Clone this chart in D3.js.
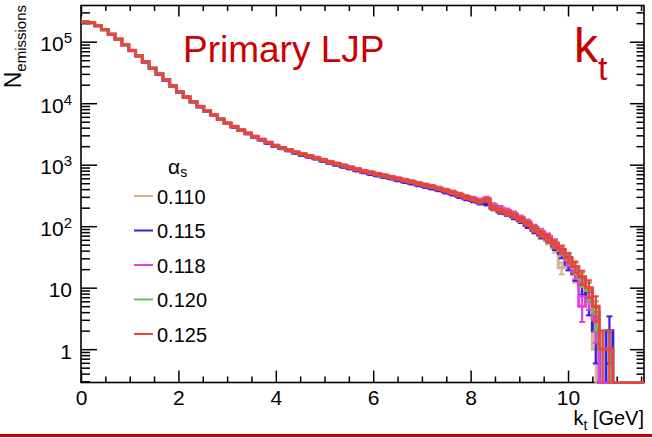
<!DOCTYPE html>
<html><head><meta charset="utf-8">
<script src="https://cdn.jsdelivr.net/npm/d3@7"></script>
<style>
body{margin:0;background:#fff;}
svg{display:block;}
text{font-family:"Liberation Sans",Arial,Helvetica,sans-serif;}
</style>
</head><body>
<svg id="c" width="652" height="438"></svg>
<script>
// ---------------- data ----------------
const seriesNames = ["0.110", "0.115", "0.118", "0.120", "0.125"];
const seriesColors = ["#d4b48a", "#3b1fe5", "#e43fe4", "#6abf5a", "#e8453c"];
const binWidth = 0.14; // kt bin width [GeV], bins start at 0

const s0110 = [211500, 204500, 182000, 157500, 132000, 110000, 89000, 72000, 59000, 47000,
  37000, 30000, 24000, 19000, 15200, 12600, 10550, 8800, 7480, 6430,
  5490, 4720, 4150, 3660, 3230, 2840, 2560, 2280, 2030, 1870,
  1730, 1580, 1470, 1375, 1280, 1185, 1100, 1030, 960, 895,
  836, 782, 738, 696, 658, 620, 586, 552, 522, 488,
  460, 434, 405, 378, 348, 322, 296, 280, 262, 262,
  198, 178, 162, 146, 126, 106, 88, 70, 58, 44,
  21, 26, 16, 12, 7, 1, 0, 0, 0, 0,
  0, 0, 0];
const s0115 = [210000, 203000, 181000, 156000, 131000, 109000, 88500, 71500, 58500, 46500,
  36600, 29700, 23700, 18800, 15100, 12400, 10450, 8700, 7400, 6350,
  5420, 4660, 4100, 3610, 3190, 2800, 2520, 2240, 2000, 1830,
  1690, 1545, 1430, 1335, 1245, 1150, 1070, 990, 925, 865,
  805, 750, 705, 668, 632, 598, 560, 528, 498, 466,
  440, 415, 388, 360, 334, 306, 280, 262, 240, 232,
  196, 172, 160, 142, 124, 104, 86, 72, 62, 48,
  36, 24, 17, 11, 6, 2, 0, 2, 0, 0,
  0, 0, 0];
const s0118 = [212000, 205000, 183000, 158000, 133000, 110500, 89500, 72500, 59500, 47400,
  37300, 30200, 24200, 19200, 15400, 12700, 10700, 8900, 7580, 6500,
  5560, 4780, 4210, 3710, 3280, 2890, 2600, 2320, 2070, 1900,
  1760, 1610, 1500, 1400, 1305, 1210, 1125, 1050, 980, 915,
  855, 800, 752, 712, 672, 636, 600, 566, 535, 500,
  472, 446, 416, 388, 360, 332, 303, 284, 262, 285,
  222, 198, 180, 160, 138, 118, 96, 82, 68, 54,
  40, 28, 18, 5, 7, 3, 0, 0, 0, 0,
  0, 0, 0];
const s0120 = [211000, 204000, 182500, 157000, 132500, 110000, 89200, 72200, 59000, 47100,
  37100, 30000, 24000, 19000, 15300, 12600, 10600, 8820, 7500, 6450,
  5510, 4740, 4170, 3680, 3250, 2860, 2570, 2300, 2045, 1885,
  1745, 1595, 1485, 1385, 1292, 1192, 1112, 1038, 968, 902,
  843, 788, 743, 702, 663, 626, 591, 558, 527, 492,
  464, 438, 409, 381, 352, 326, 297, 277, 253, 268,
  202, 182, 167, 151, 131, 112, 92, 76, 64, 51,
  41, 30, 21, 14, 9, 4, 1, 1, 0, 0,
  0, 0, 0];
const s0125 = [211000, 204000, 182000, 157000, 132000, 110000, 89000, 72000, 59000, 47000,
  37000, 30000, 24000, 19000, 15300, 12600, 10600, 8800, 7500, 6450,
  5500, 4730, 4170, 3670, 3240, 2850, 2570, 2290, 2040, 1880,
  1740, 1590, 1480, 1380, 1290, 1190, 1110, 1035, 966, 900,
  841, 785, 741, 700, 661, 624, 589, 556, 525, 490,
  462, 437, 407, 380, 351, 324, 295, 275, 251, 269,
  200, 180, 166, 150, 130, 111, 91, 75, 64, 52,
  42, 31, 22, 15, 10, 5, 1, 1, 0, 0,
  0, 0, 0];
const seriesValues = [s0110, s0115, s0118, s0120, s0125];

const xMajorTicks = [0, 2, 4, 6, 8, 10];
const xMajorLabels = ["0", "2", "4", "6", "8", "10"];
const yMajorTicks = [1, 10, 100, 1000, 10000, 100000];
const yTickBase = ["1", "10", "10", "10", "10", "10"];
const yTickExp = ["", "", "2", "3", "4", "5"];

// ---------------- layout ----------------
const L = 81, R = 644, T = 5.5, B = 382.5;
const x = d3.scaleLinear().domain([0, 11.56]).range([L, R]);
const y = d3.scaleLog().domain([0.287, 3.88e5]).range([B, T]).clamp(true);

const svg = d3.select("#c");
svg.append("rect").attr("width", 652).attr("height", 438).attr("fill", "#fff");

// minor ticks
const xMinor = d3.range(0, 11.56, 0.5).filter(v => !xMajorTicks.includes(v));
const yMinor = [];
[0.1, 1, 10, 100, 1000, 10000, 100000].forEach(d => {
  for (let m = 2; m <= 9; m++) { const v = d * m; if (v >= 0.287 && v <= 3.88e5) yMinor.push(v); }
});

function styleAxis(g) {
  g.select(".domain").remove();
  g.selectAll("line").attr("stroke", "#000").attr("stroke-width", 1.5);
}

// bottom axis (major with labels)
const gxb = svg.append("g").attr("transform", `translate(0,${B})`)
  .call(d3.axisBottom(x).tickValues(xMajorTicks).tickSize(-12).tickPadding(7.5)
    .tickFormat((d, i) => xMajorLabels[i]));
styleAxis(gxb);
gxb.selectAll("text").attr("font-size", 21).attr("fill", "#000")
  .attr("font-family", '"Liberation Sans",Arial,sans-serif');
svg.append("g").attr("transform", `translate(0,${B})`)
  .call(d3.axisBottom(x).tickValues(xMinor).tickSize(-6).tickFormat("")).call(styleAxis);
// top axis
svg.append("g").attr("transform", `translate(0,${T})`)
  .call(d3.axisTop(x).tickValues(xMajorTicks).tickSize(-11).tickFormat("")).call(styleAxis);
svg.append("g").attr("transform", `translate(0,${T})`)
  .call(d3.axisTop(x).tickValues(xMinor).tickSize(-5.5).tickFormat("")).call(styleAxis);

// left axis
const gyl = svg.append("g").attr("transform", `translate(${L},0)`)
  .call(d3.axisLeft(y).tickValues(yMajorTicks).tickSize(-16).tickPadding(9).tickFormat(""));
styleAxis(gyl);
gyl.selectAll(".tick").each(function (d, i) {
  const t = d3.select(this).select("text")
    .attr("font-size", 21).attr("fill", "#000").attr("dy", "0.43em")
    .attr("font-family", '"Liberation Sans",Arial,sans-serif');
  t.text(null);
  t.append("tspan").text(yTickBase[i]);
  if (yTickExp[i]) t.append("tspan").attr("font-size", 15).attr("dy", -8).text(yTickExp[i]);
});
svg.append("g").attr("transform", `translate(${L},0)`)
  .call(d3.axisLeft(y).tickValues(yMinor).tickSize(-9).tickFormat("")).call(styleAxis);
// right axis
svg.append("g").attr("transform", `translate(${R},0)`)
  .call(d3.axisRight(y).tickValues(yMajorTicks).tickSize(-14).tickFormat("")).call(styleAxis);
svg.append("g").attr("transform", `translate(${R},0)`)
  .call(d3.axisRight(y).tickValues(yMinor).tickSize(-7.5).tickFormat("")).call(styleAxis);

// frame
svg.append("rect").attr("x", L).attr("y", T).attr("width", R - L).attr("height", B - T)
  .attr("fill", "none").attr("stroke", "#000").attr("stroke-width", 1.6);

// clip
svg.append("clipPath").attr("id", "clip").append("rect")
  .attr("x", L).attr("y", T).attr("width", R - L).attr("height", B - T + 1.5);

const plot = svg.append("g").attr("clip-path", "url(#clip)");
const yv = v => (v > 0 ? y(v) : B + 0.5);

seriesValues.forEach((vals, s) => {
  const g = plot.append("g").attr("stroke", seriesColors[s]).attr("fill", "none")
    .attr("stroke-width", 3);
  const pts = [];
  vals.forEach((v, i) => {
    pts.push([x(i * binWidth), yv(v)]);
    pts.push([x((i + 1) * binWidth), yv(v)]);
  });
  g.append("path").attr("d", d3.line()(pts)).attr("stroke-linejoin", "miter");
  // error bars
  vals.forEach((v, i) => {
    if (v <= 0) return;
    const e = Math.sqrt(v);
    const cx = x((i + 0.5) * binWidth);
    const yHi = y(v + e);
    const yLo = v - e > 0 ? y(v - e) : B + 1;
    g.append("line").attr("x1", cx).attr("x2", cx).attr("y1", yHi).attr("y2", yLo)
      .attr("stroke-width", 2.2);
    g.append("line").attr("x1", cx - 3).attr("x2", cx + 3).attr("y1", yHi).attr("y2", yHi)
      .attr("stroke-width", 2);
    if (v - e > 0) g.append("line").attr("x1", cx - 3).attr("x2", cx + 3)
      .attr("y1", yLo).attr("y2", yLo).attr("stroke-width", 2);
  });
});

// axis titles
const xt = svg.append("text").attr("x", R).attr("y", 425).attr("text-anchor", "end")
  .attr("font-size", 20).attr("fill", "#000");
xt.append("tspan").text("k");
xt.append("tspan").attr("font-size", 14).attr("dy", 5).text("t");
xt.append("tspan").attr("dy", -5).text(" [GeV]");

const yt = svg.append("text").attr("transform", "translate(21,5) rotate(-90)")
  .attr("text-anchor", "end").attr("font-size", 23).attr("fill", "#000");
yt.append("tspan").text("N");
yt.append("tspan").attr("font-size", 15).attr("dy", 5).text("emissions");

// annotations
svg.append("text").attr("x", 183).attr("y", 62).attr("font-size", 37)
  .attr("fill", "#cc0000").text("Primary LJP");
const kt = svg.append("text").attr("x", 574).attr("y", 62).attr("font-size", 48)
  .attr("fill", "#cc0000");
kt.append("tspan").text("k");
kt.append("tspan").attr("font-size", 34).attr("dy", 18).text("t");

// legend
const lg = svg.append("g");
const lh = lg.append("text").attr("x", 168).attr("y", 173.5).attr("font-size", 21).attr("fill", "#000");
lh.append("tspan").text("α");
lh.append("tspan").attr("font-size", 14).attr("dy", 3).text("s");
const legY = [196, 230.5, 265, 299.5, 334];
seriesNames.forEach((n, i) => {
  lg.append("line").attr("x1", 134).attr("x2", 153).attr("y1", legY[i]).attr("y2", legY[i])
    .attr("stroke", seriesColors[i]).attr("stroke-width", 2);
  lg.append("text").attr("x", 157).attr("y", legY[i] + 7.5).attr("font-size", 20)
    .attr("fill", "#000").text(n);
});

// bottom red rule
svg.append("rect").attr("x", 0).attr("y", 434).attr("width", 652).attr("height", 3).attr("fill", "#cc0000");
</script>
</body></html>
